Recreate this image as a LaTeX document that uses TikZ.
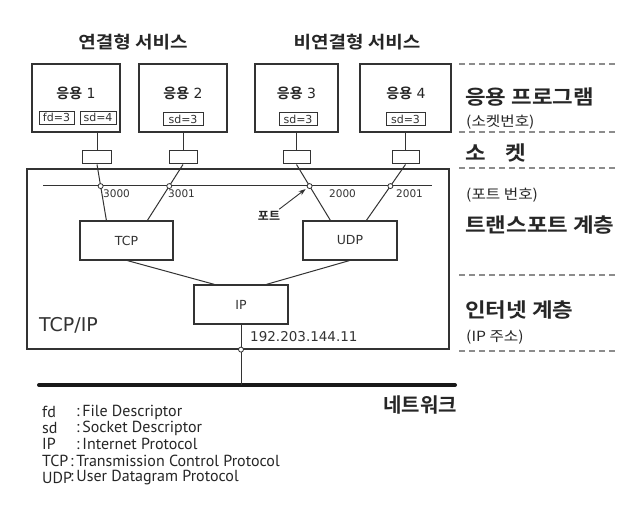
\documentclass[tikz,border=0pt]{standalone}
\usepackage{fontspec}
\setmainfont{DejaVu Sans}
\newfontfamily\kr{Noto Sans CJK KR}[BoldFont={* Bold}]
\newfontfamily\krw{Noto Sans CJK KR}[BoldFont={* Bold},FakeStretch=1.12]
\newfontfamily\legfont{PT Sans}
\usetikzlibrary{arrows.meta,calc}
\colorlet{ln}{black!80}
\newcommand{\fsz}[1]{\fontsize{#1}{#1}\selectfont}
\begin{document}
\begin{tikzpicture}[x=1pt,y=-1pt,
  box/.style={draw=ln,line width=1.2pt,fill=white,inner sep=0pt},
  tag/.style={draw=ln,line width=0.8pt,inner sep=0pt,minimum height=13pt,font=\fsz{11},text=ln},
  wire/.style={draw=ln,line width=1pt},
  port/.style={circle,draw=ln,fill=white,line width=0.8pt,inner sep=0pt,minimum size=5pt},
  head/.style={font=\krw\bfseries\fsz{17},text=black!85},
  layer/.style={anchor=west,font=\krw\bfseries\fsz{20},text=black!85,inner sep=0pt},
  note/.style={anchor=west,font=\krw\fsz{14},text=black!85,inner sep=0pt},
  num/.style={anchor=west,font=\fsz{10.5},text=ln,inner sep=0pt},
  dashline/.style={draw=black!45,line width=1.3pt,dash pattern=on 6pt off 4pt},
  leg/.style={anchor=west,font=\legfont\fsz{16},text=black!85,inner sep=0pt}]
\useasboundingbox[fill=white] (0,0) rectangle (643,505);

% service headings
\node[head] (svc1) at (133,42) {연결형 서비스};
\node[head] (svc2) at (357,42) {비연결형 서비스};

% application boxes
\node[box,minimum width=88pt,minimum height=68pt] (app1) at (76,98) {};
\node[box,minimum width=88pt,minimum height=68pt] (app2) at (183,98) {};
\node[box,minimum width=83pt,minimum height=68pt] (app3) at (296.5,98) {};
\node[box,minimum width=91pt,minimum height=68pt] (app4) at (405.5,98) {};
\node[font=\fsz{14},text=black!85] (n1) at (76,93) {{\kr\bfseries 응용} 1};
\node[font=\fsz{14},text=black!85] (n2) at (183,93) {{\kr\bfseries 응용} 2};
\node[font=\fsz{14},text=black!85] (n3) at (296.5,93) {{\kr\bfseries 응용} 3};
\node[font=\fsz{14},text=black!85] (n4) at (406,93) {{\kr\bfseries 응용} 4};
\node[tag,minimum width=35pt] (fd1) at (56.5,117.5) {fd=3};
\node[tag,minimum width=36pt] (sd1) at (98,117.5) {sd=4};
\node[tag,minimum width=40pt] (sd2) at (183,119) {sd=3};
\node[tag,minimum width=38pt] (sd3) at (298,119) {sd=3};
\node[tag,minimum width=39pt] (sd4) at (405.5,119) {sd=3};

% sockets
\node[box,line width=1pt,minimum width=29pt,minimum height=13pt] (s1) at (97,157.5) {};
\node[box,line width=1pt,minimum width=28pt,minimum height=13pt] (s2) at (183,157.5) {};
\node[box,line width=1pt,minimum width=27pt,minimum height=13pt] (s3) at (296.5,157.5) {};
\node[box,line width=1pt,minimum width=27pt,minimum height=13pt] (s4) at (405.5,157.5) {};
\draw[wire] (app1.south -| s1.north) -- (s1.north);
\draw[wire] (app2.south -| s2.north) -- (s2.north);
\draw[wire] (app3.south -| s3.north) -- (s3.north);
\draw[wire] (app4.south -| s4.north) -- (s4.north);

% TCP/IP block
\node[box,minimum width=422pt,minimum height=180pt,fill=none] (stack) at (238,259) {};
\node[box,minimum width=93pt,minimum height=39pt,font=\fsz{12.5},text=ln] (tcp) at (126.5,240.5) {TCP};
\node[box,minimum width=94pt,minimum height=39pt,font=\fsz{12.5},text=ln] (udp) at (350,240.5) {UDP};
\node[box,minimum width=94pt,minimum height=39pt,font=\fsz{12.5},text=ln] (ip) at (241,304.5) {IP};
\node[anchor=west,font=\fsz{19},text=ln,inner sep=0pt] (stk) at (39,325) {TCP/IP};

% port line and ports
\coordinate (pl) at (43,186);
\coordinate (pr) at (432,186);
\draw[wire] (pl) -- (pr);
\coordinate (t1) at ($(tcp.north west)+(27,0)$);
\coordinate (t2) at ($(tcp.north west)+(68,0)$);
\coordinate (u1) at ($(udp.north west)+(28,0)$);
\coordinate (u2) at ($(udp.north west)+(64,0)$);
\draw[wire] (s1.south) -- (t1);
\draw[wire] (s2.south) -- (t2);
\draw[wire] (s3.south) -- (u1);
\draw[wire] (s4.south) -- (u2);
\node[port] (p1) at ($(s1.south)!0.386!(t1)$) {};
\node[port] (p2) at ($(s2.south)!0.386!(t2)$) {};
\node[port] (p3) at ($(s3.south)!0.386!(u1)$) {};
\node[port] (p4) at ($(s4.south)!0.386!(u2)$) {};
\node[num] (l1) at (103,194) {3000};
\node[num] (l2) at (168,194) {3001};
\node[num] (l3) at (329,194) {2000};
\node[num] (l4) at (396,194) {2001};
\node[font=\kr\bfseries\fsz{12},text=black!85,inner sep=1pt] (pt) at (269,216) {포트};
\coordinate (pa) at ($(pt.north east)+(-2,-1)$);
\draw[wire,line width=0.9pt,-{Stealth[length=7pt,width=5pt]}] (pa) -- ($(p3)+(-4,3)$);

% transport to network links
\draw[wire] ($(tcp.south west)+(48,0)$) -- ($(ip.north west)+(21,0)$);
\draw[wire] ($(udp.south west)+(47,0)$) -- ($(ip.north west)+(73,0)$);

% network attachment
\coordinate (nl) at (39,385);
\coordinate (nr) at (455,385);
\draw[draw=black!90,line width=4pt,line cap=round] (nl) -- (nr);
\draw[wire] (ip.south) -- (ip.south |- nl);
\node[port] (ipa) at (ip.south |- stack.south) {};
\node[anchor=west,font=\fsz{13.5},text=ln,inner sep=0pt] (addr) at (250,337) {192.203.144.11};
\node[font=\kr\bfseries\fsz{20},text=black!85] (net) at (420,405) {네트워크};

% layer labels on the right
\draw[dashline] (459,64) -- (615,64);
\draw[dashline] (459,132) -- (615,132);
\draw[dashline] (459,168) -- (615,168);
\draw[dashline] (459,275) -- (615,275);
\draw[dashline] (459,351) -- (615,351);
\node[layer] (la1) at (465,97) {응용 프로그램};
\node[note] (la2) at (466,122) {(소켓번호)};
\node[layer] (la3) at (465,153) {소\hspace{1em}켓};
\node[note] (la4) at (466,195) {(포트 번호)};
\node[layer] (la5) at (465,225) {트랜스포트 계층};
\node[layer] (la6) at (465,310) {인터넷 계층};
\node[note] (la7) at (466,337) {(IP 주소)};

% legend
\node[leg] (k1) at (42,412) {fd};
\node[leg] (k2) at (42,428) {sd};
\node[leg] (k3) at (42,444) {IP};
\node[leg] (k4) at (42,461) {TCP};
\node[leg] (k5) at (42,478) {UDP};
\node[leg] (d1) at (76,412) {:\,File Descriptor};
\node[leg] (d2) at (76,428) {:\,Socket Descriptor};
\node[leg] (d3) at (76,444) {:\,Internet Protocol};
\node[leg] (d4) at (70,461) {:\,Transmission Control Protocol};
\node[leg] (d5) at (70,478) {:\,User Datagram Protocol};
\end{tikzpicture}
\end{document}
